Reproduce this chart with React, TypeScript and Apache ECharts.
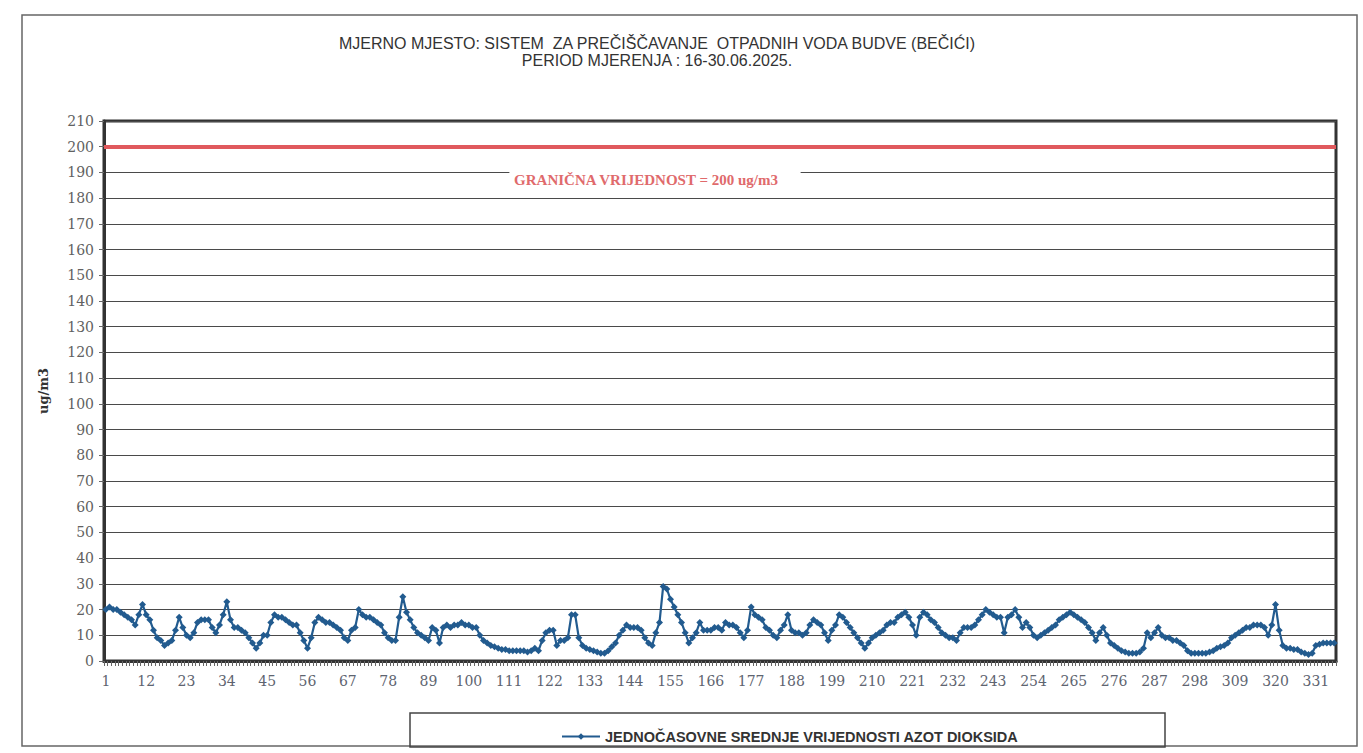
import React, { useEffect, useRef } from "react";
import * as echarts from "echarts";

const TITLE_LINE_1 = "MJERNO MJESTO: SISTEM  ZA PREČIŠČAVANJE  OTPADNIH VODA BUDVE (BEČIĆI)";
const TITLE_LINE_2 = "PERIOD MJERENJA : 16-30.06.2025.";
const SERIES_NAME = "JEDNOČASOVNE SREDNJE VRIJEDNOSTI AZOT DIOKSIDA";
const LIMIT_LABEL = "GRANIČNA VRIJEDNOST = 200 ug/m3";
const Y_NAME = "ug/m3";

const LIMIT_VALUE = 200;
const Y_MIN = 0;
const Y_MAX = 210;
const Y_STEP = 10;

// hour index 1..336 (16-30.06.2025, hourly)
const hours: string[] = Array.from({ length: 336 }, (_, i) => String(i + 1));

const no2: number[] = [
  20, 21, 20, 20, 19, 18, 17, 16, 14, 18,
  22, 18, 16, 12, 9, 8, 6, 7, 8, 12,
  17, 13, 10, 9, 11, 15, 16, 16, 16, 13,
  11, 14, 18, 23, 16, 13, 13, 12, 11, 9,
  7, 5, 7, 10, 10, 15, 18, 17, 17, 16,
  15, 14, 14, 11, 8, 5, 9, 15, 17, 16,
  15, 15, 14, 13, 12, 9, 8, 12, 13, 20,
  18, 17, 17, 16, 15, 14, 11, 9, 8, 8,
  17, 25, 19, 16, 13, 11, 10, 9, 8, 13,
  12, 7, 13, 14, 13, 14, 14, 15, 14, 14,
  13, 13, 10, 8, 7, 6, 5.5, 5, 4.5, 4.5,
  4, 4, 4, 4, 4, 3.5, 4, 5, 4, 8,
  11, 12, 12, 6, 8, 8, 9, 18, 18, 9,
  6, 5, 4.5, 4, 3.5, 3, 3, 4, 5.5, 7,
  10, 12, 14, 13, 13, 13, 12, 9, 7, 6,
  11, 15, 29, 28, 24, 21, 18, 15, 11, 7,
  9, 11, 15, 12, 12, 12, 13, 13, 12, 15,
  14, 14, 13, 11, 9, 12, 21, 18, 17, 16,
  13, 12, 10, 9, 12, 14, 18, 12, 11, 11,
  10, 11, 14, 16, 15, 14, 11, 8, 12, 14,
  18, 17, 15, 13, 11, 9, 7, 5, 7, 9,
  10, 11, 12, 14, 15, 15, 17, 18, 19, 17,
  14, 10, 17, 19, 18, 16, 15, 13, 11, 10,
  9, 9, 8, 11, 13, 13, 13, 14, 16, 18,
  20, 19, 18, 17, 17, 11, 17, 18, 20, 17,
  13, 15, 13, 10, 9, 10, 11, 12, 13, 14,
  16, 17, 18, 19, 18, 17, 16, 15, 13, 11,
  8, 11, 13, 10, 7, 6, 5, 4, 3.5, 3,
  3, 3, 3.5, 5, 11, 9, 11, 13, 10, 9,
  9, 8, 8, 7, 6, 4, 3, 3, 3, 3,
  3, 3.5, 4, 5, 5.5, 6, 7, 9, 10, 11,
  12, 13, 13, 14, 14, 14, 13, 10, 14, 22,
  12, 6, 5, 5, 4.5, 4.5, 3.5, 3, 2.5, 3,
  6, 6.5, 7, 7, 7, 7,
];

export default function App() {
  const ref = useRef<HTMLDivElement>(null);

  useEffect(() => {
    if (!ref.current) return;
    const chart = echarts.init(ref.current, undefined, { renderer: "svg" });
    const serif = "'DejaVu Serif', serif";
    chart.setOption({
      animation: false,
      backgroundColor: "#ffffff",
      grid: {
        left: 104,
        right: 27,
        top: 121,
        bottom: 92,
        show: true,
        borderColor: "#333333",
        borderWidth: 3,
        backgroundColor: "transparent",
      },
      legend: {
        left: 556,
        top: 724,
        itemWidth: 38,
        itemHeight: 8,
        itemGap: 4,
        textStyle: {
          fontFamily: "'Liberation Sans', sans-serif",
          fontWeight: "bold",
          fontSize: 14.5,
          color: "#333333",
        },
        data: [SERIES_NAME],
      },
      xAxis: {
        type: "category",
        data: hours,
        boundaryGap: true,
        axisLine: { show: true, lineStyle: { color: "#333333", width: 3 } },
        axisTick: { show: true, interval: 0, length: 5, lineStyle: { color: "#666666", width: 1 } },
        axisLabel: {
          interval: 10,
          margin: 13,
          fontFamily: serif,
          fontSize: 14,
          color: "#5e6470",
        },
        splitLine: { show: false },
      },
      yAxis: {
        type: "value",
        min: Y_MIN,
        max: Y_MAX,
        interval: Y_STEP,
        name: Y_NAME,
        nameLocation: "middle",
        nameGap: 54,
        nameRotate: 90,
        nameTextStyle: { fontFamily: serif, fontSize: 13, color: "#333333", fontWeight: "bold" },
        axisLine: { show: true, lineStyle: { color: "#333333", width: 3 } },
        axisTick: { show: true, length: 5, lineStyle: { color: "#666666" } },
        axisLabel: { margin: 10, fontFamily: serif, fontSize: 14, color: "#616161" },
        splitLine: { show: true, lineStyle: { color: "#4a4a4a", width: 1 } },
      },
      series: [
        {
          name: SERIES_NAME,
          type: "line",
          data: no2,
          symbol: "diamond",
          symbolSize: 7,
          showAllSymbol: true,
          color: "#225b8f",
          lineStyle: { color: "#225b8f", width: 2.2 },
          itemStyle: { color: "#225b8f" },
          markLine: {
            silent: true,
            symbol: "none",
            label: { show: false },
            lineStyle: { color: "#e0595d", width: 4, type: "solid" },
            data: [{ yAxis: LIMIT_VALUE }],
          },
        },
      ],
      graphic: [
        {
          type: "rect",
          z: -1,
          shape: { x: 22, y: 15, width: 1335, height: 731 },
          style: { fill: "none", stroke: "#666666", lineWidth: 1.5 },
        },
        {
          type: "text",
          x: 657,
          y: 43,
          style: {
            text: TITLE_LINE_1,
            align: "center",
            verticalAlign: "middle",
            fill: "#333333",
            font: "16px 'Liberation Sans', sans-serif",
          },
        },
        {
          type: "text",
          x: 657,
          y: 60,
          style: {
            text: TITLE_LINE_2,
            align: "center",
            verticalAlign: "middle",
            fill: "#333333",
            font: "16px 'Liberation Sans', sans-serif",
          },
        },
        {
          type: "text",
          x: 655,
          y: 180,
          z: 10,
          style: {
            text: LIMIT_LABEL,
            align: "center",
            verticalAlign: "middle",
            fill: "#e06a6c",
            font: "bold 15px 'Liberation Serif', serif",
            backgroundColor: "#ffffff",
            padding: [3, 22, 3, 4],
          },
        },
        {
          type: "rect",
          z: -1,
          shape: { x: 410, y: 713, width: 755, height: 34 },
          style: { fill: "none", stroke: "#444444", lineWidth: 1.5 },
        },
      ],
    });
    return () => chart.dispose();
  }, []);

  return (
    <div
      ref={ref}
      style={{ position: "absolute", left: 0, top: 0, width: 1363, height: 753 }}
    />
  );
}
